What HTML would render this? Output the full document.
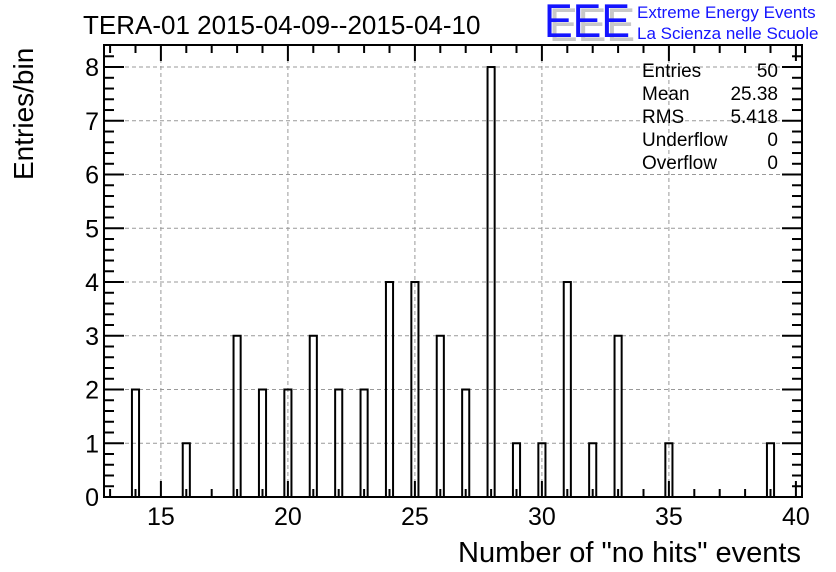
<!DOCTYPE html>
<html><head><meta charset="utf-8"><style>
body{margin:0;background:#fff}
svg{display:block;font-family:"Liberation Sans",Arial,sans-serif}
</style></head><body>
<svg id="c" width="836" height="572" viewBox="0 0 836 572">
<text x="83" y="34" font-size="26">TERA-01 2015-04-09--2015-04-10</text>
<g>
<text x="549" y="41" font-size="47" fill="#c8c8c8" textLength="86" lengthAdjust="spacingAndGlyphs">EEE</text>
<text x="544" y="37" font-size="47" fill="#1414ff" textLength="86" lengthAdjust="spacingAndGlyphs">EEE</text>
<text x="637" y="18" font-size="17" fill="#1414ff">Extreme Energy Events</text>
<text x="637" y="39" font-size="17" fill="#1414ff">La Scienza nelle Scuole</text>
</g>
<g id="grid"></g>
<g id="bars"></g>
<g id="axes"></g>
<rect x="104" y="45" width="698" height="452" fill="none" stroke="#000" stroke-width="2"/>
<g font-size="19">
<text x="642" y="77">Entries</text><text x="778" y="77" text-anchor="end">50</text>
<text x="642" y="100">Mean</text><text x="778" y="100" text-anchor="end">25.38</text>
<text x="642" y="123">RMS</text><text x="778" y="123" text-anchor="end">5.418</text>
<text x="642" y="146">Underflow</text><text x="778" y="146" text-anchor="end">0</text>
<text x="642" y="169">Overflow</text><text x="778" y="169" text-anchor="end">0</text>
</g>
<text transform="translate(33,180) rotate(-90)" font-size="28">Entries/bin</text>
<text x="801" y="562" font-size="29" text-anchor="end">Number of "no hits" events</text>
</svg>
<script>
const categories=[14,16,18,19,20,21,22,23,24,25,26,27,28,29,30,31,32,33,35,39];
const counts=[2,1,3,2,2,3,2,2,4,4,3,2,8,1,1,4,1,3,1,1];
const xTickLabels=[15,20,25,30,35,40];
const yTickLabels=[0,1,2,3,4,5,6,7,8];
const NS="http://www.w3.org/2000/svg";
const X0=104,X1=802,Y0=497,Y1=45,xmin=12.76,xmax=40.24,ymax=8.41;
const sx=v=>X0+(v-xmin)/(xmax-xmin)*(X1-X0);
const sy=v=>Y0-v/ymax*(Y0-Y1);
function mk(t,a,p){const e=document.createElementNS(NS,t);for(const k in a)e.setAttribute(k,a[k]);p.appendChild(e);return e;}
const grid=document.getElementById('grid'),bars=document.getElementById('bars'),axes=document.getElementById('axes');
xTickLabels.forEach(v=>{if(v<40){const l=mk('line',{x1:sx(v),x2:sx(v),y1:Y1,y2:Y0,stroke:'#999','stroke-dasharray':'4,3'},grid);
}});
yTickLabels.forEach(v=>{if(v>0){const l=mk('line',{x1:X0,x2:X1,y1:sy(v),y2:sy(v),stroke:'#999','stroke-dasharray':'4,3'},grid);
}});
categories.forEach((c,i)=>{const r=mk('rect',{x:sx(c-0.14),y:sy(counts[i]),width:sx(c+0.14)-sx(c-0.14),height:Y0-sy(counts[i]),fill:'none',stroke:'#000','stroke-width':2},bars);
});
for(let v=13;v<=40;v++){const major=v%5===0;const h=major?16:8;
mk('line',{x1:sx(v),x2:sx(v),y1:Y0,y2:Y0-h,stroke:'#000','stroke-width':2},axes);
mk('line',{x1:sx(v),x2:sx(v),y1:Y1,y2:Y1+h,stroke:'#000','stroke-width':2},axes);}
xTickLabels.forEach(v=>{const t=mk('text',{x:sx(v),y:525,'font-size':25,'text-anchor':'middle'},axes);t.textContent=v;
});
for(let v=0;v<=8.4;v+=0.2){const major=Math.abs(v-Math.round(v))<1e-6;const w=major?20:10;
mk('line',{x1:X0,x2:X0+w,y1:sy(v),y2:sy(v),stroke:'#000','stroke-width':2},axes);
mk('line',{x1:X1,x2:X1-w,y1:sy(v),y2:sy(v),stroke:'#000','stroke-width':2},axes);}
yTickLabels.forEach(v=>{const t=mk('text',{x:99,y:sy(v)+9,'font-size':25,'text-anchor':'end'},axes);t.textContent=v;
});
</script>
</body></html>
